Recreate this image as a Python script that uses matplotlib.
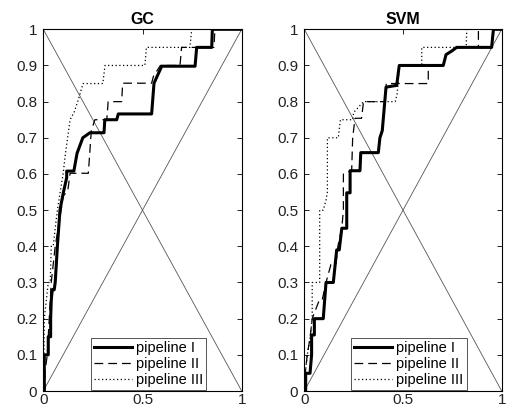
import matplotlib
matplotlib.use("Agg")
import matplotlib.pyplot as plt

plt.rcParams['font.family'] = ['Liberation Sans', 'DejaVu Sans']

titles = ["GC", "SVM"]
labels = ["pipeline I", "pipeline II", "pipeline III"]

# GC panel
gc_fpr_1 = [0, 0.005, 0.005, 0.025, 0.025, 0.037, 0.037, 0.04, 0.045, 0.055, 0.06, 0.071, 0.084, 0.1, 0.118, 0.118,
            0.154, 0.17, 0.199, 0.235, 0.306, 0.31, 0.37, 0.378, 0.546, 0.558, 0.597, 0.765, 0.773, 0.849, 0.852, 1]
gc_tpr_1 = [0, 0, 0.1, 0.1, 0.15, 0.15, 0.2, 0.25, 0.28, 0.28, 0.3, 0.4, 0.5, 0.546, 0.59, 0.608,
            0.608, 0.657, 0.70, 0.714, 0.714, 0.75, 0.75, 0.766, 0.766, 0.851, 0.898, 0.898, 0.95, 0.95, 1, 1]
gc_fpr_2 = [0, 0.008, 0.008, 0.02, 0.03, 0.04, 0.05, 0.06, 0.075, 0.09, 0.1, 0.12, 0.125, 0.135, 0.227, 0.242,
            0.26, 0.3, 0.32, 0.327, 0.395, 0.40, 0.546, 0.555, 0.59, 0.689, 0.697, 0.86, 0.865, 1]
gc_tpr_2 = [0, 0, 0.05, 0.1, 0.2, 0.3, 0.35, 0.4, 0.45, 0.5, 0.54, 0.55, 0.56, 0.602, 0.602, 0.72,
            0.75, 0.75, 0.75, 0.8, 0.8, 0.851, 0.851, 0.87, 0.9, 0.9, 0.95, 0.95, 1, 1]
gc_fpr_3 = [0, 0.003, 0.005, 0.015, 0.025, 0.035, 0.04, 0.05, 0.06, 0.071, 0.085, 0.1, 0.11, 0.135, 0.155,
            0.176, 0.2, 0.30, 0.311, 0.512, 0.52, 0.739, 0.748, 1]
gc_tpr_3 = [0, 0.1, 0.2, 0.25, 0.3, 0.3, 0.4, 0.4, 0.45, 0.5, 0.55, 0.6, 0.65, 0.75, 0.77,
            0.804, 0.85, 0.85, 0.9, 0.9, 0.95, 0.95, 1, 1]

# SVM panel
svm_fpr_1 = [0, 0.007, 0.007, 0.029, 0.037, 0.037, 0.051, 0.051, 0.096, 0.11, 0.147, 0.164, 0.177, 0.19, 0.215,
             0.215, 0.232, 0.232, 0.282, 0.286, 0.375, 0.383, 0.395, 0.414, 0.468, 0.481, 0.704, 0.718, 0.747,
             0.772, 0.949, 0.958, 1]
svm_tpr_1 = [0, 0, 0.049, 0.049, 0.1, 0.155, 0.155, 0.2, 0.2, 0.30, 0.30, 0.39, 0.39, 0.45, 0.45,
             0.548, 0.548, 0.609, 0.609, 0.659, 0.659, 0.70, 0.72, 0.84, 0.845, 0.9, 0.9, 0.93, 0.94,
             0.95, 0.95, 1, 1]
svm_fpr_2 = [0, 0.005, 0.015, 0.03, 0.04, 0.075, 0.09, 0.11, 0.135, 0.16, 0.17, 0.19, 0.198, 0.198, 0.24, 0.245,
             0.257, 0.29, 0.30, 0.41, 0.415, 0.485, 0.628, 0.628, 0.704, 0.718, 0.772, 0.882, 0.882, 1]
svm_tpr_2 = [0, 0.05, 0.1, 0.15, 0.2, 0.25, 0.25, 0.3, 0.35, 0.35, 0.4, 0.45, 0.5, 0.6, 0.61, 0.7,
             0.754, 0.754, 0.8, 0.8, 0.85, 0.85, 0.85, 0.9, 0.9, 0.93, 0.95, 0.95, 1, 1]
svm_fpr_3 = [0, 0.005, 0.015, 0.03, 0.04, 0.04, 0.073, 0.078, 0.078, 0.096, 0.11, 0.117, 0.117, 0.172, 0.183,
             0.245, 0.25, 0.30, 0.46, 0.47, 0.475, 0.481, 0.595, 0.595, 0.82, 0.823, 1]
svm_tpr_3 = [0, 0.05, 0.1, 0.15, 0.2, 0.3, 0.3, 0.3, 0.5, 0.5, 0.528, 0.55, 0.7, 0.7, 0.75,
             0.75, 0.77, 0.8, 0.8, 0.82, 0.85, 0.9, 0.9, 0.95, 0.95, 1, 1]

panels = [
    [(gc_fpr_1, gc_tpr_1), (gc_fpr_2, gc_tpr_2), (gc_fpr_3, gc_tpr_3)],
    [(svm_fpr_1, svm_tpr_1), (svm_fpr_2, svm_tpr_2), (svm_fpr_3, svm_tpr_3)],
]
styles = [dict(color='black', lw=2.2, ls='-'),
          dict(color='black', lw=0.9, ls=(0, (7, 4))),
          dict(color='black', lw=0.9, ls=(0, (1, 2)))]

fig = plt.figure(figsize=(5.07, 4.11), dpi=100)
W, H = 507, 411
rects = [(43.3, 241.7), (304.3, 501.7)]
top_px, bot_px = 29.3, 391.0
for i, (x0, x1) in enumerate(rects):
    ax = fig.add_axes([x0 / W, (H - bot_px) / H, (x1 - x0) / W, (bot_px - top_px) / H])
    ax.plot([0, 1], [0, 1], color='#555555', lw=0.6)
    ax.plot([0, 1], [1, 0], color='#555555', lw=0.6)
    for (fx, ty), st, lab in zip(panels[i], styles, labels):
        ax.plot(fx, ty, label=lab, **st)
    ax.set_xlim(0, 1)
    ax.set_ylim(0, 1)
    ax.set_xticks([0, 0.5, 1])
    ax.set_xticklabels(['0', '0.5', '1'])
    ax.set_yticks([i / 10 for i in range(11)])
    ax.set_yticklabels(['0'] + ['0.%d' % k for k in range(1, 10)] + ['1'])
    ax.tick_params(direction='in', top=True, right=True, length=3.5, width=0.7, labelsize=11,
                   pad=4.5, colors='#222222')
    ax.tick_params(axis='x', pad=1.6)
    for s in ax.spines.values():
        s.set_linewidth(0.8)
    ax.set_title(titles[i], fontsize=11.5, fontweight='bold', pad=4)
    leg = ax.legend(loc='lower center', bbox_to_anchor=(0.53, 0.0), fontsize=10.5, fancybox=False,
                    edgecolor='#555555', framealpha=1, handlelength=2.6, handletextpad=0.3,
                    labelspacing=0.12, borderpad=0.2, borderaxespad=0.1)
    leg.get_frame().set_linewidth(0.7)

fig.savefig('out.png', dpi=100)
